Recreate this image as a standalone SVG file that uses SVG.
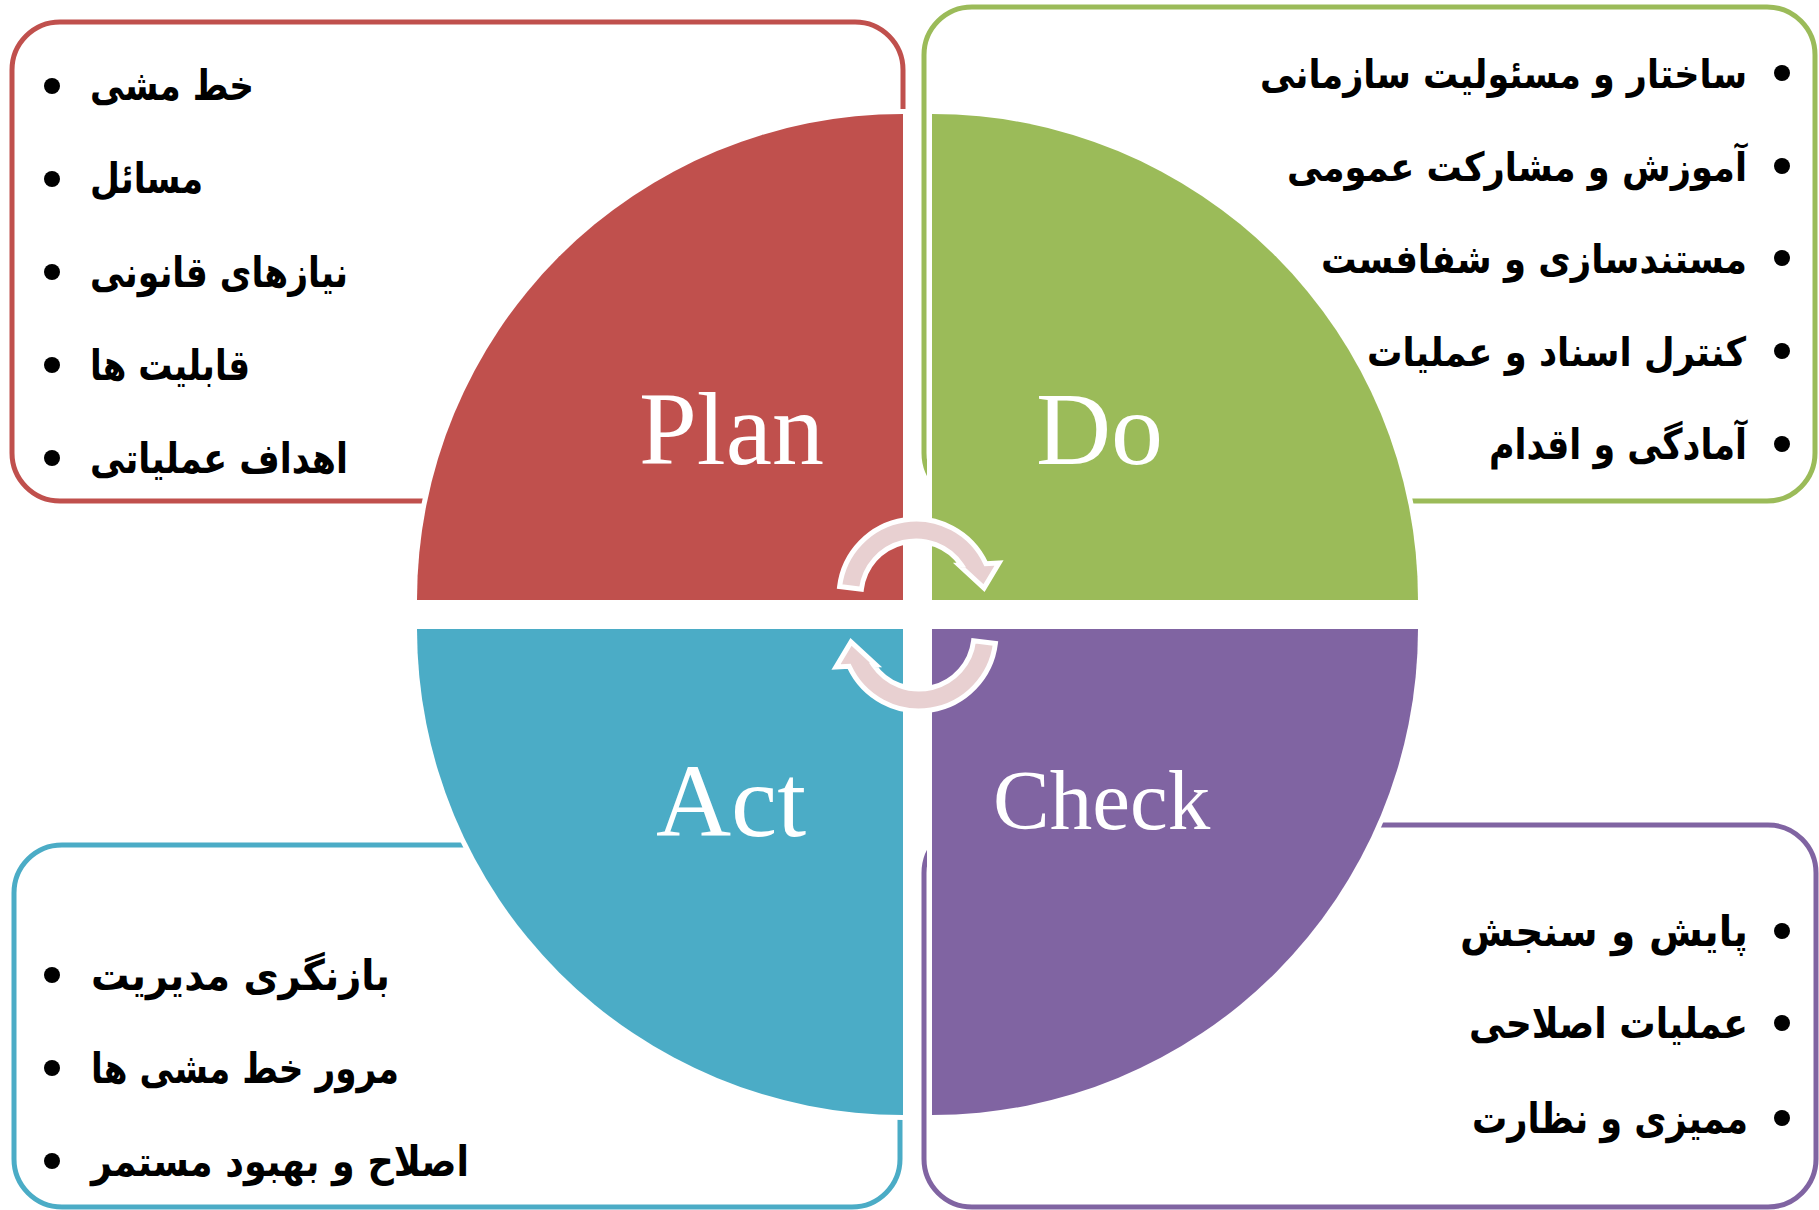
<svg xmlns="http://www.w3.org/2000/svg" width="1819" height="1210" viewBox="0 0 1819 1210">
<style>
.box{fill:none;stroke-width:5}
.q{stroke:#fff;stroke-width:10;paint-order:stroke}
.arrow{fill:#E8D0D1;stroke:#fff;stroke-width:5;stroke-linejoin:miter}
.lbl{font-family:"Liberation Serif","Times New Roman",serif;fill:#fff}
.fa{font-family:"DejaVu Sans","Noto Sans",sans-serif;font-weight:bold;font-size:42px;fill:#000}
.fs{font-size:40px}
.fe{text-anchor:end}
.b{fill:#000}
</style>
<rect width="1819" height="1210" fill="#fff"/>
<g id="plan-box"><rect class="box" x="12" y="22" width="891" height="479" rx="48" stroke="#C0504D"/></g>
<g id="do-box"><rect class="box" x="924" y="7" width="891" height="494" rx="48" stroke="#9BBB59"/></g>
<g id="act-box"><rect class="box" x="14" y="845" width="886" height="362" rx="48" stroke="#4BACC6"/></g>
<g id="check-box"><rect class="box" x="924" y="825" width="892" height="382" rx="48" stroke="#8064A2"/></g>

<g id="plan"><path class="q" fill="#C0504D" d="M903,600 L903,114 A486,486 0 0 0 417,600 Z"/><text class="lbl" x="639" y="464" font-size="104">Plan</text></g>
<g id="do"><path class="q" fill="#9BBB59" d="M932,600 L932,114 A486,486 0 0 1 1418,600 Z"/><text class="lbl" x="1036" y="464" font-size="104">Do</text></g>
<g id="act"><path class="q" fill="#4BACC6" d="M903,629 L417,629 A486,486 0 0 0 903,1115 Z"/><text class="lbl" x="656" y="836" font-size="104">Act</text></g>
<g id="check"><path class="q" fill="#8064A2" d="M932,629 L1418,629 A486,486 0 0 1 932,1115 Z"/><text class="lbl" x="993" y="829" font-size="85">Check</text></g>

<g id="connectors">
<path id="arr1" class="arrow" d="M839.6,586.6 A77,77 0 0 1 985.9,563.7 L999,563 L984,588 L959,565 L961.4,564.9 A55,55 0 0 0 861.4,589.3 Z"/>
<path class="arrow" transform="rotate(180 917.5 615)" d="M839.6,586.6 A77,77 0 0 1 985.9,563.7 L999,563 L984,588 L959,565 L961.4,564.9 A55,55 0 0 0 861.4,589.3 Z"/>
</g>

<g id="plan-items">
<circle class="b" cx="52" cy="86" r="8"/><text class="fa" x="90" y="100" textLength="164" lengthAdjust="spacingAndGlyphs">خط مشی</text>
<circle class="b" cx="52" cy="179" r="8"/><text class="fa" x="90" y="193" textLength="113" lengthAdjust="spacingAndGlyphs">مسائل</text>
<circle class="b" cx="52" cy="272" r="8"/><text class="fa" x="90" y="287" textLength="258" lengthAdjust="spacingAndGlyphs">نیازهای قانونی</text>
<circle class="b" cx="52" cy="365" r="8"/><text class="fa" x="90" y="380" textLength="160" lengthAdjust="spacingAndGlyphs">قابلیت ها</text>
<circle class="b" cx="52" cy="458" r="8"/><text class="fa" x="90" y="473" textLength="258" lengthAdjust="spacingAndGlyphs">اهداف عملیاتی</text>
</g>
<g id="do-items">
<circle class="b" cx="1782" cy="73" r="8"/><text class="fa fs fe" x="1747" y="88" textLength="487" lengthAdjust="spacingAndGlyphs">ساختار و مسئولیت سازمانی</text>
<circle class="b" cx="1782" cy="166" r="8"/><text class="fa fs fe" x="1747" y="181" textLength="460" lengthAdjust="spacingAndGlyphs">آموزش و مشارکت عمومی</text>
<circle class="b" cx="1782" cy="258" r="8"/><text class="fa fs fe" x="1747" y="273" textLength="426" lengthAdjust="spacingAndGlyphs">مستندسازی و شفافست</text>
<circle class="b" cx="1782" cy="351" r="8"/><text class="fa fs fe" x="1746" y="366" textLength="379" lengthAdjust="spacingAndGlyphs">کنترل اسناد و عملیات</text>
<circle class="b" cx="1782" cy="444" r="8"/><text class="fa fe" x="1747" y="459" textLength="258" lengthAdjust="spacingAndGlyphs">آمادگی و اقدام</text>
</g>
<g id="check-items">
<circle class="b" cx="1782" cy="931" r="8"/><text class="fa fe" x="1748" y="946" textLength="288" lengthAdjust="spacingAndGlyphs">پایش و سنجش</text>
<circle class="b" cx="1782" cy="1023" r="8"/><text class="fa fe" x="1748" y="1038" textLength="279" lengthAdjust="spacingAndGlyphs">عملیات اصلاحی</text>
<circle class="b" cx="1782" cy="1118" r="8"/><text class="fa fe" x="1748" y="1133" textLength="276" lengthAdjust="spacingAndGlyphs">ممیزی و نظارت</text>
</g>
<g id="act-items">
<circle class="b" cx="52" cy="975" r="8"/><text class="fa" x="91" y="990" textLength="299" lengthAdjust="spacingAndGlyphs">بازنگری مدیریت</text>
<circle class="b" cx="52" cy="1068" r="8"/><text class="fa" x="91" y="1083" textLength="308" lengthAdjust="spacingAndGlyphs">مرور خط مشی ها</text>
<circle class="b" cx="52" cy="1161" r="8"/><text class="fa" x="91" y="1176" textLength="378" lengthAdjust="spacingAndGlyphs">اصلاح و بهبود مستمر</text>
</g>
</svg>
